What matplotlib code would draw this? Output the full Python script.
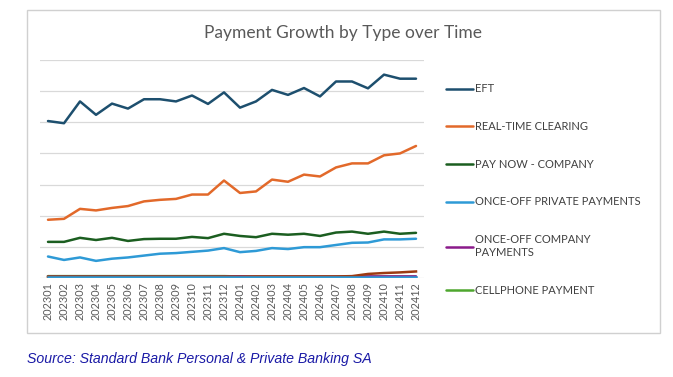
import numpy as np
import matplotlib.pyplot as plt
from matplotlib.patches import Rectangle

months = ["202301", "202302", "202303", "202304", "202305", "202306", "202307", "202308",
          "202309", "202310", "202311", "202312", "202401", "202402", "202403", "202404",
          "202405", "202406", "202407", "202408", "202409", "202410", "202411", "202412"]

eft = [5.04, 4.97, 5.67, 5.24, 5.60, 5.44, 5.74, 5.74, 5.67, 5.86, 5.59, 5.96,
       5.47, 5.67, 6.04, 5.88, 6.10, 5.83, 6.31, 6.31, 6.09, 6.53, 6.40, 6.40]
rtc = [1.87, 1.90, 2.22, 2.17, 2.25, 2.31, 2.46, 2.51, 2.54, 2.68, 2.68, 3.13,
       2.73, 2.78, 3.16, 3.09, 3.32, 3.26, 3.55, 3.68, 3.68, 3.94, 4.00, 4.24]
pay_now = [1.16, 1.16, 1.29, 1.22, 1.29, 1.19, 1.25, 1.26, 1.26, 1.32, 1.28, 1.42,
           1.35, 1.31, 1.42, 1.39, 1.42, 1.35, 1.46, 1.49, 1.42, 1.49, 1.42, 1.45]
private = [0.69, 0.58, 0.66, 0.55, 0.62, 0.66, 0.72, 0.78, 0.80, 0.84, 0.88, 0.96,
           0.83, 0.87, 0.96, 0.93, 0.99, 0.99, 1.06, 1.13, 1.14, 1.24, 1.24, 1.26]
company = [0.04, 0.04, 0.04, 0.04, 0.04, 0.04, 0.04, 0.04, 0.04, 0.04, 0.04, 0.04,
           0.05, 0.04, 0.04, 0.04, 0.04, 0.04, 0.04, 0.04, 0.05, 0.05, 0.05, 0.05]
cellphone = [0.06, 0.06, 0.06, 0.06, 0.06, 0.06, 0.06, 0.06, 0.06, 0.06, 0.06, 0.06,
             0.05, 0.04, 0.04, 0.04, 0.04, 0.04, 0.04, 0.04, 0.04, 0.04, 0.04, 0.04]
other_brown = [0.04, 0.04, 0.04, 0.04, 0.04, 0.04, 0.04, 0.04, 0.04, 0.04, 0.04, 0.04,
               0.04, 0.05, 0.05, 0.05, 0.05, 0.05, 0.05, 0.06, 0.13, 0.16, 0.18, 0.21]
other_blue = [0.02] * 24

series = [
    ("EFT", eft, "#1d4f6e"),
    ("REAL-TIME CLEARING", rtc, "#e2692a"),
    ("PAY NOW - COMPANY", pay_now, "#1b5e20"),
    ("ONCE-OFF PRIVATE PAYMENTS", private, "#2e9ad6"),
    ("ONCE-OFF COMPANY\nPAYMENTS", company, "#8b1a8b"),
    ("CELLPHONE PAYMENT", cellphone, "#4ea72e"),
]

plt.rcParams['font.family'] = ['Lato', 'DejaVu Sans']

fig = plt.figure(figsize=(6.73, 3.77), dpi=100)
fig.patches.append(Rectangle((27 / 673, 1 - 333 / 377), 633 / 673, 323 / 377,
                             transform=fig.transFigure, fill=False,
                             edgecolor="#d0d0d0", linewidth=1.0))

ax = fig.add_axes([40 / 673, 1 - 278 / 377, 384 / 673, 218 / 377])
x = np.arange(len(months))

for name, vals, col in series[::-1]:
    ax.plot(x, vals, color=col, linewidth=1.8, label=name, solid_capstyle="round")
ax.plot(x, other_brown, color="#9c3a12", linewidth=1.8, label="_nolegend_")
ax.plot(x, other_blue, color="#2e9ad6", linewidth=1.8, label="_nolegend_")

ax.set_xlim(-0.5, len(months) - 0.5)
ax.set_ylim(0, 7)
ax.set_yticks(np.arange(0, 8))
ax.set_yticklabels([])
ax.tick_params(axis="y", length=0)
ax.set_xticks(x)
ax.set_xticklabels(months, rotation=90, fontsize=7.8, color="#595959")
ax.tick_params(axis="x", length=0, pad=3)
ax.grid(axis="y", color="#d9d9d9", linewidth=0.9)
ax.set_axisbelow(True)
for s in ax.spines.values():
    s.set_visible(False)

handles, labels = ax.get_legend_handles_labels()
leg = ax.legend(handles[::-1], labels[::-1], loc="upper left",
                bbox_to_anchor=(442 / 673, 1 - 79 / 377), bbox_transform=fig.transFigure,
                frameon=False, fontsize=8, labelspacing=2.4, handlelength=2.4,
                handletextpad=0.15, borderaxespad=0)
for t in leg.get_texts():
    t.set_color("#404040")

fig.text(343 / 673, 1 - 33 / 377, "Payment Growth by Type over Time", ha="center",
         va="center", fontsize=12.5, color="#595959")
fig.text(27 / 673, 1 - 359 / 377, "Source: Standard Bank Personal & Private Banking SA",
         ha="left", va="center", fontsize=10.2, style="italic", color="#1a1aa6",
         family=["Liberation Sans", "DejaVu Sans"])

fig.savefig("out.png", dpi=100)
